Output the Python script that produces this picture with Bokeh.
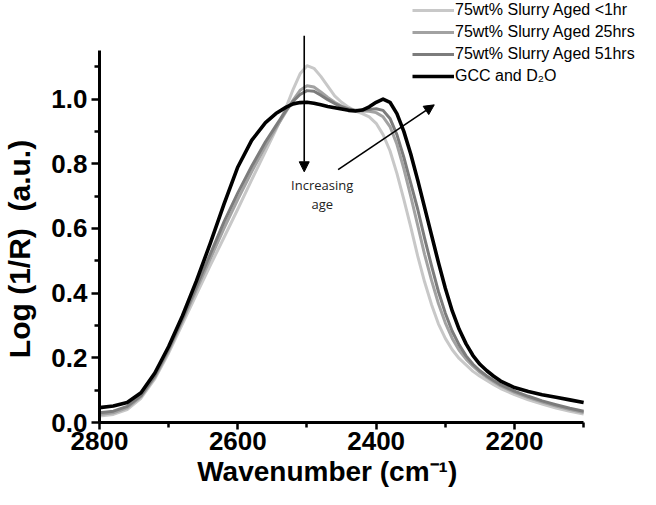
from bokeh.plotting import figure
from bokeh.models import (Range1d, FixedTicker, Legend, LegendItem, Arrow, NormalHead, Label,
                          CustomJSTickFormatter)
from bokeh.embed import file_html
from bokeh.resources import INLINE

# ---- data ----
wavenumber = [2800, 2780, 2760, 2740, 2720, 2700, 2680, 2660, 2640, 2620, 2600, 2580, 2560, 2545,
              2530, 2520, 2510, 2500, 2490, 2480, 2470, 2460, 2450, 2440, 2430, 2420, 2410, 2400,
              2390, 2380, 2370, 2360, 2350, 2340, 2330, 2320, 2310, 2300, 2290, 2280, 2270, 2260,
              2250, 2240, 2230, 2220, 2200, 2180, 2160, 2140, 2120, 2100]

aged_1hr = [0.020, 0.025, 0.040, 0.075, 0.135, 0.215, 0.305, 0.395, 0.485, 0.572, 0.660, 0.750,
            0.838, 0.905, 0.975, 1.030, 1.078, 1.103, 1.095, 1.070, 1.040, 1.010, 0.990, 0.975,
            0.963, 0.955, 0.945, 0.925, 0.890, 0.840, 0.770, 0.690, 0.605, 0.515, 0.435, 0.365,
            0.305, 0.260, 0.225, 0.198, 0.178, 0.158, 0.143, 0.130, 0.117, 0.105, 0.086, 0.070,
            0.057, 0.045, 0.035, 0.026]

aged_25hrs = [0.025, 0.030, 0.045, 0.080, 0.140, 0.222, 0.315, 0.410, 0.505, 0.600, 0.690, 0.775,
              0.855, 0.910, 0.962, 0.997, 1.027, 1.041, 1.037, 1.022, 1.005, 0.990, 0.978, 0.970,
              0.965, 0.963, 0.962, 0.958, 0.945, 0.915, 0.860, 0.785, 0.700, 0.610, 0.520, 0.440,
              0.368, 0.308, 0.260, 0.223, 0.196, 0.174, 0.155, 0.140, 0.126, 0.113, 0.093, 0.077,
              0.063, 0.051, 0.040, 0.031]

aged_51hrs = [0.030, 0.035, 0.050, 0.083, 0.145, 0.228, 0.320, 0.420, 0.520, 0.620, 0.710, 0.792,
              0.868, 0.917, 0.966, 0.993, 1.014, 1.026, 1.024, 1.012, 0.998, 0.986, 0.976, 0.969,
              0.965, 0.966, 0.968, 0.970, 0.965, 0.940, 0.890, 0.820, 0.740, 0.660, 0.570, 0.485,
              0.405, 0.338, 0.282, 0.240, 0.206, 0.180, 0.160, 0.144, 0.130, 0.117, 0.097, 0.081,
              0.067, 0.055, 0.044, 0.035]

gcc_d2o = [0.046, 0.051, 0.062, 0.092, 0.153, 0.235, 0.330, 0.437, 0.553, 0.675, 0.790, 0.872,
           0.927, 0.955, 0.975, 0.985, 0.989, 0.990, 0.987, 0.982, 0.977, 0.973, 0.969, 0.965,
           0.963, 0.966, 0.976, 0.990, 1.000, 0.990, 0.955, 0.900, 0.830, 0.750, 0.665, 0.580,
           0.495, 0.415, 0.345, 0.288, 0.243, 0.207, 0.180, 0.160, 0.143, 0.128, 0.108, 0.096,
           0.086, 0.078, 0.070, 0.062]

series_names = ["75wt% Slurry Aged <1hr", "75wt% Slurry Aged 25hrs",
                "75wt% Slurry Aged 51hrs", "GCC and D\u2082O"]
series_colors = ["#c8c8c8", "#a2a2a2", "#7c7c7c", "#000000"]
series_widths = [3, 3, 3, 3.6]

x_major = [2800, 2600, 2400, 2200]
x_minor = [2700, 2500, 2300, 2100]
y_major = [0.0, 0.2, 0.4, 0.6, 0.8, 1.0]
y_minor = [0.1, 0.3, 0.5, 0.7, 0.9, 1.1]

NB = "\u00a0"
x_title = "Wavenumber (cm\u207b\u00b9)"
y_title = "Log (1/R)" + NB * 2 + "(a.u.)"

# annotation positions (data units)
arrow_down = (2504, 1.196, 2504, 0.775)
arrow_diag = (2455, 0.782, 2316, 0.982)
note_x = 2478
note_lines = [("Increasing", 0.735), ("age", 0.674)]

FONT = "Liberation Sans"

p = figure(width=640, height=489, x_range=Range1d(2800, 2017.8), y_range=Range1d(0, 1.3046),
           output_backend="svg", toolbar_location=None,
           min_border_left=94, min_border_right=0, min_border_top=0, min_border_bottom=65)
p.outline_line_color = None
p.xgrid.visible = False
p.ygrid.visible = False

renderers = []
for vals, c, w in zip([aged_1hr, aged_25hrs, aged_51hrs, gcc_d2o], series_colors, series_widths):
    r = p.line(wavenumber, vals, line_color=c, line_width=w, line_join="round")
    renderers.append(r)

for ax in (p.xaxis[0], p.yaxis[0]):
    ax.axis_line_width = 3
    ax.axis_line_color = "black"
    ax.major_tick_line_width = 2.5
    ax.minor_tick_line_width = 2.5
    ax.major_tick_in = 0
    ax.minor_tick_in = 0
    ax.minor_tick_out = 5
    ax.major_label_text_font = FONT
    ax.major_label_text_font_style = "bold"
    ax.major_label_text_font_size = "26px"
    ax.major_label_text_color = "black"
    ax.axis_label_text_font = FONT
    ax.axis_label_text_font_style = "bold"
    ax.axis_label_text_color = "black"

p.xaxis.ticker = FixedTicker(ticks=x_major, minor_ticks=x_minor)
p.yaxis.ticker = FixedTicker(ticks=y_major, minor_ticks=y_minor)
p.xaxis.bounds = (2100, 2800)
p.yaxis.bounds = (0, 1.15)
p.xaxis.major_tick_out = 7
p.yaxis.major_tick_out = 8
p.xaxis.major_label_standoff = 2
p.yaxis.major_label_standoff = 4
p.xaxis.formatter.use_scientific = False
p.yaxis.formatter = CustomJSTickFormatter(code="return tick.toFixed(1);")

# axis titles: trailing no-break spaces shift the visible text like the reference
p.xaxis.axis_label = x_title + NB * 11
p.xaxis.axis_label_text_font_size = "28px"
p.xaxis.axis_label_standoff = 3
p.yaxis.axis_label = y_title + NB * 9
p.yaxis.axis_label_text_font_size = "30px"
p.yaxis.axis_label_standoff = 12

legend = Legend(items=[LegendItem(label=n, renderers=[r]) for n, r in zip(series_names, renderers)],
                location=(313, 336))
legend.background_fill_alpha = 0
legend.border_line_color = None
legend.padding = 0
legend.margin = 0
legend.spacing = 2
legend.label_height = 20
legend.glyph_height = 20
legend.glyph_width = 42
legend.label_standoff = 1
legend.label_text_font = FONT
legend.label_text_font_size = "16px"
legend.label_text_color = "black"
p.add_layout(legend)

for (xs, ys, xe, ye) in (arrow_down, arrow_diag):
    p.add_layout(Arrow(end=NormalHead(size=10, fill_color="black", line_color="black", line_width=1),
                       x_start=xs, y_start=ys, x_end=xe, y_end=ye, line_width=1.6, line_color="black"))
for txt, yv in note_lines:
    p.add_layout(Label(x=note_x, y=yv, text=txt, text_align="center", text_baseline="middle",
                       text_font="Open Sans", text_font_size="13px", text_color="#222222"))

open("out.html", "w").write(file_html(p, INLINE))
